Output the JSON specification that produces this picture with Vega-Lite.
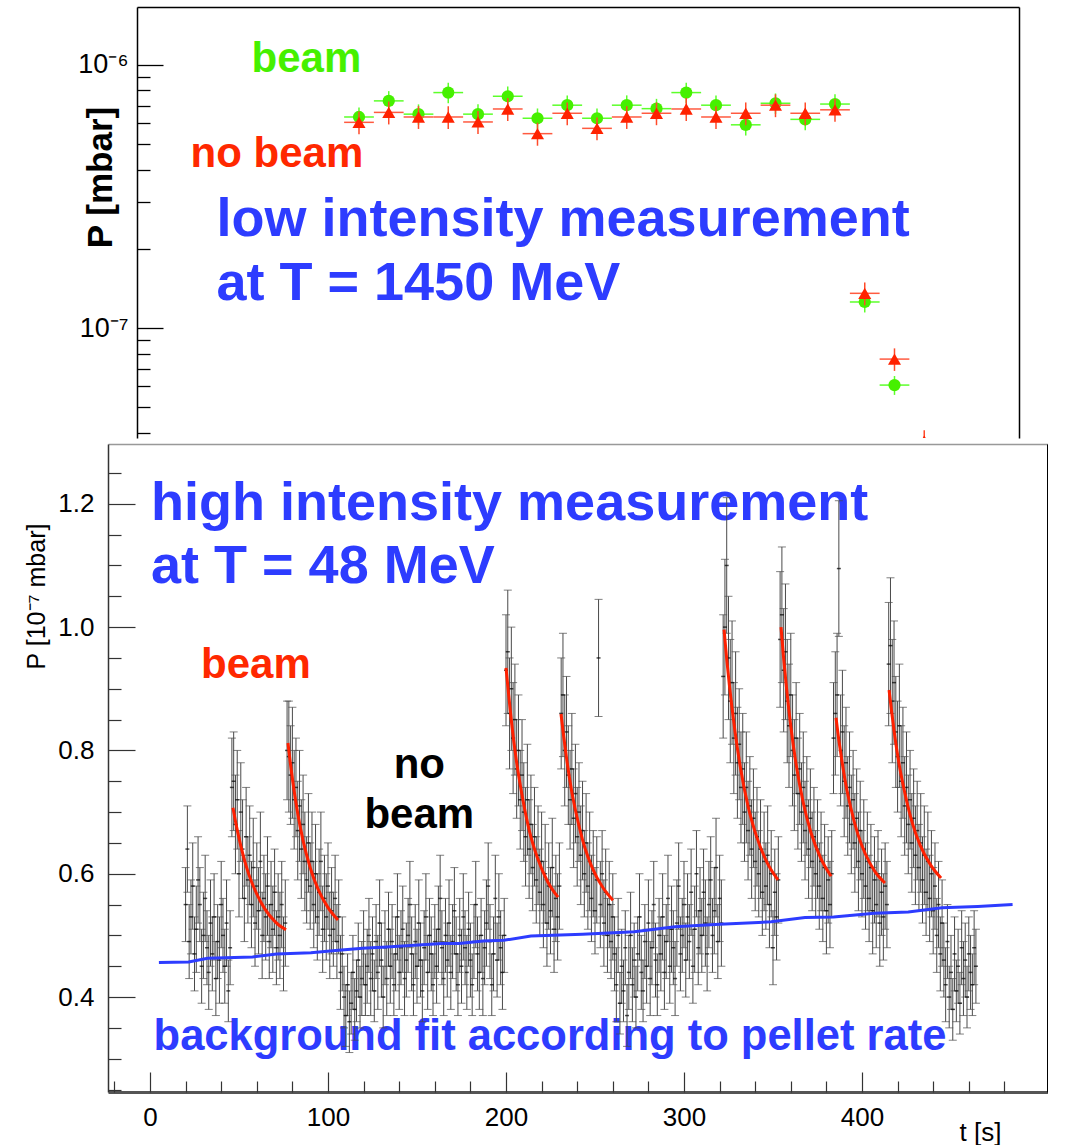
{
"$schema": "https://vega.github.io/schema/vega-lite/v6.json",
"background": "white",
"padding": {"left": 23, "top": 7, "right": 0, "bottom": 0},
"config": {"view": {"stroke": null}, "axis": {"grid": false, "labelFont": "Liberation Sans", "titleFont": "Liberation Sans", "labelColor": "black", "titleColor": "black"}, "text": {"font": "Liberation Sans"}},
"datasets": {
"top": [
{"i":1,"s":"beam","p":6.34e-7,"e":5.5e-8,"xe":0.5},{"i":2,"s":"beam","p":7.30e-7,"e":6.5e-8,"xe":0.5},{"i":3,"s":"beam","p":6.50e-7,"e":5.8e-8,"xe":0.5},{"i":4,"s":"beam","p":7.85e-7,"e":7.0e-8,"xe":0.5},{"i":5,"s":"beam","p":6.50e-7,"e":5.8e-8,"xe":0.5},{"i":6,"s":"beam","p":7.60e-7,"e":6.8e-8,"xe":0.5},{"i":7,"s":"beam","p":6.27e-7,"e":5.6e-8,"xe":0.5},{"i":8,"s":"beam","p":7.03e-7,"e":6.3e-8,"xe":0.5},{"i":9,"s":"beam","p":6.27e-7,"e":5.6e-8,"xe":0.5},{"i":10,"s":"beam","p":7.03e-7,"e":6.3e-8,"xe":0.5},{"i":11,"s":"beam","p":6.82e-7,"e":6.1e-8,"xe":0.5},{"i":12,"s":"beam","p":7.85e-7,"e":7.0e-8,"xe":0.5},{"i":13,"s":"beam","p":7.03e-7,"e":6.3e-8,"xe":0.5},{"i":14,"s":"beam","p":5.92e-7,"e":5.3e-8,"xe":0.5},{"i":15,"s":"beam","p":7.15e-7,"e":6.4e-8,"xe":0.5},{"i":16,"s":"beam","p":6.21e-7,"e":5.6e-8,"xe":0.5},{"i":17,"s":"beam","p":7.10e-7,"e":6.4e-8,"xe":0.5},{"i":18,"s":"beam","p":1.256e-7,"e":1.1e-8,"xe":0.5},{"i":19,"s":"beam","p":6.07e-8,"e":5.0e-9,"xe":0.5},{"i":20,"s":"beam","p":3.0e-8,"e":2.6e-9,"xe":0.5},
{"i":1,"s":"nobeam","p":6.05e-7,"e":6.0e-8,"xe":0.5},{"i":2,"s":"nobeam","p":6.60e-7,"e":6.6e-8,"xe":0.5},{"i":3,"s":"nobeam","p":6.34e-7,"e":6.3e-8,"xe":0.5},{"i":4,"s":"nobeam","p":6.34e-7,"e":6.3e-8,"xe":0.5},{"i":5,"s":"nobeam","p":6.07e-7,"e":6.1e-8,"xe":0.5},{"i":6,"s":"nobeam","p":6.80e-7,"e":6.8e-8,"xe":0.5},{"i":7,"s":"nobeam","p":5.48e-7,"e":5.5e-8,"xe":0.5},{"i":8,"s":"nobeam","p":6.55e-7,"e":6.5e-8,"xe":0.5},{"i":9,"s":"nobeam","p":5.74e-7,"e":5.7e-8,"xe":0.5},{"i":10,"s":"nobeam","p":6.34e-7,"e":6.3e-8,"xe":0.5},{"i":11,"s":"nobeam","p":6.55e-7,"e":6.5e-8,"xe":0.5},{"i":12,"s":"nobeam","p":6.80e-7,"e":6.8e-8,"xe":0.5},{"i":13,"s":"nobeam","p":6.34e-7,"e":6.3e-8,"xe":0.5},{"i":14,"s":"nobeam","p":6.55e-7,"e":6.5e-8,"xe":0.5},{"i":15,"s":"nobeam","p":7.03e-7,"e":7.0e-8,"xe":0.5},{"i":16,"s":"nobeam","p":6.55e-7,"e":6.5e-8,"xe":0.5},{"i":17,"s":"nobeam","p":6.75e-7,"e":6.7e-8,"xe":0.5},{"i":18,"s":"nobeam","p":1.355e-7,"e":1.35e-8,"xe":0.5},{"i":19,"s":"nobeam","p":7.62e-8,"e":7.5e-9,"xe":0.5},{"i":20,"s":"nobeam","p":3.72e-8,"e":3.7e-9,"xe":0.5}
],
"bot": [
{"t":20,"p":0.55,"e":0.06},{"t":21,"p":0.64,"e":0.07},{"t":22,"p":0.49,"e":0.06},{"t":23,"p":0.53,"e":0.06},{"t":24,"p":0.58,"e":0.07},{"t":25,"p":0.47,"e":0.06},{"t":26,"p":0.51,"e":0.07},{"t":27,"p":0.59,"e":0.07},{"t":28,"p":0.55,"e":0.06},{"t":29,"p":0.45,"e":0.06},
{"t":30,"p":0.50,"e":0.07},{"t":31,"p":0.56,"e":0.07},{"t":32,"p":0.48,"e":0.06},{"t":33,"p":0.44,"e":0.06},{"t":34,"p":0.52,"e":0.07},{"t":35,"p":0.47,"e":0.06},{"t":36,"p":0.53,"e":0.07},{"t":37,"p":0.43,"e":0.06},{"t":38,"p":0.49,"e":0.06},{"t":39,"p":0.46,"e":0.07},
{"t":40,"p":0.55,"e":0.07},{"t":41,"p":0.50,"e":0.06},{"t":42,"p":0.45,"e":0.06},{"t":43,"p":0.52,"e":0.07},{"t":44,"p":0.41,"e":0.05},{"t":45,"p":0.48,"e":0.06},
{"t":46,"p":0.74,"e":0.08},{"t":47,"p":0.75,"e":0.08},{"t":48,"p":0.68,"e":0.08},{"t":49,"p":0.72,"e":0.08},{"t":50,"p":0.60,"e":0.07},{"t":51,"p":0.70,"e":0.08},{"t":52,"p":0.64,"e":0.08},{"t":53,"p":0.56,"e":0.07},{"t":54,"p":0.66,"e":0.08},{"t":55,"p":0.59,"e":0.07},
{"t":56,"p":0.63,"e":0.08},{"t":57,"p":0.55,"e":0.07},{"t":58,"p":0.61,"e":0.08},{"t":59,"p":0.52,"e":0.07},{"t":60,"p":0.58,"e":0.07},{"t":61,"p":0.54,"e":0.07},{"t":62,"p":0.62,"e":0.08},{"t":63,"p":0.50,"e":0.07},{"t":64,"p":0.56,"e":0.07},{"t":65,"p":0.53,"e":0.07},
{"t":66,"p":0.58,"e":0.08},{"t":67,"p":0.49,"e":0.06},{"t":68,"p":0.55,"e":0.07},{"t":69,"p":0.51,"e":0.07},{"t":70,"p":0.57,"e":0.07},{"t":71,"p":0.48,"e":0.06},{"t":72,"p":0.53,"e":0.07},{"t":73,"p":0.50,"e":0.07},{"t":74,"p":0.55,"e":0.07},{"t":75,"p":0.47,"e":0.06},{"t":76,"p":0.52,"e":0.07},
{"t":77,"p":0.80,"e":0.08},{"t":78,"p":0.79,"e":0.09},{"t":79,"p":0.76,"e":0.08},{"t":80,"p":0.78,"e":0.09},{"t":81,"p":0.72,"e":0.08},{"t":82,"p":0.74,"e":0.08},{"t":83,"p":0.67,"e":0.08},{"t":84,"p":0.71,"e":0.09},{"t":85,"p":0.64,"e":0.08},{"t":86,"p":0.68,"e":0.08},
{"t":87,"p":0.62,"e":0.08},{"t":88,"p":0.59,"e":0.07},{"t":89,"p":0.65,"e":0.08},{"t":90,"p":0.58,"e":0.07},{"t":91,"p":0.62,"e":0.08},{"t":92,"p":0.55,"e":0.07},{"t":93,"p":0.60,"e":0.08},{"t":94,"p":0.53,"e":0.07},{"t":95,"p":0.57,"e":0.07},{"t":96,"p":0.62,"e":0.08},
{"t":97,"p":0.51,"e":0.07},{"t":98,"p":0.56,"e":0.07},{"t":99,"p":0.53,"e":0.07},{"t":100,"p":0.58,"e":0.07},{"t":101,"p":0.50,"e":0.07},{"t":102,"p":0.54,"e":0.07},{"t":103,"p":0.51,"e":0.06},{"t":104,"p":0.56,"e":0.07},{"t":105,"p":0.49,"e":0.06},
{"t":106,"p":0.53,"e":0.06},{"t":107,"p":0.44,"e":0.06},{"t":108,"p":0.47,"e":0.06},{"t":109,"p":0.40,"e":0.05},{"t":110,"p":0.37,"e":0.05},{"t":111,"p":0.42,"e":0.05},{"t":112,"p":0.36,"e":0.05},{"t":113,"p":0.39,"e":0.05},{"t":114,"p":0.44,"e":0.06},{"t":115,"p":0.38,"e":0.05},
{"t":116,"p":0.41,"e":0.05},{"t":117,"p":0.46,"e":0.06},{"t":118,"p":0.40,"e":0.05},{"t":119,"p":0.43,"e":0.06},{"t":120,"p":0.48,"e":0.06},{"t":121,"p":0.42,"e":0.05},{"t":122,"p":0.45,"e":0.06},{"t":123,"p":0.50,"e":0.06},{"t":124,"p":0.43,"e":0.06},{"t":125,"p":0.47,"e":0.06},
{"t":126,"p":0.41,"e":0.05},{"t":127,"p":0.49,"e":0.06},{"t":128,"p":0.44,"e":0.06},{"t":129,"p":0.52,"e":0.07},{"t":130,"p":0.46,"e":0.06},{"t":131,"p":0.40,"e":0.05},{"t":132,"p":0.48,"e":0.06},{"t":133,"p":0.43,"e":0.06},{"t":134,"p":0.51,"e":0.06},{"t":135,"p":0.45,"e":0.06},
{"t":136,"p":0.49,"e":0.06},{"t":137,"p":0.42,"e":0.05},{"t":138,"p":0.47,"e":0.06},{"t":139,"p":0.53,"e":0.07},{"t":140,"p":0.44,"e":0.06},{"t":141,"p":0.48,"e":0.06},{"t":142,"p":0.51,"e":0.07},{"t":143,"p":0.43,"e":0.06},{"t":144,"p":0.46,"e":0.06},{"t":145,"p":0.50,"e":0.06},
{"t":146,"p":0.55,"e":0.07},{"t":147,"p":0.47,"e":0.06},{"t":148,"p":0.42,"e":0.05},{"t":149,"p":0.49,"e":0.06},{"t":150,"p":0.45,"e":0.06},{"t":151,"p":0.52,"e":0.07},{"t":152,"p":0.46,"e":0.06},{"t":153,"p":0.41,"e":0.05},{"t":154,"p":0.48,"e":0.06},{"t":155,"p":0.53,"e":0.07},
{"t":156,"p":0.44,"e":0.06},{"t":157,"p":0.50,"e":0.06},{"t":158,"p":0.47,"e":0.06},{"t":159,"p":0.42,"e":0.05},{"t":160,"p":0.49,"e":0.06},{"t":161,"p":0.45,"e":0.06},{"t":162,"p":0.51,"e":0.07},{"t":163,"p":0.56,"e":0.07},{"t":164,"p":0.48,"e":0.06},{"t":165,"p":0.43,"e":0.06},
{"t":166,"p":0.50,"e":0.06},{"t":167,"p":0.46,"e":0.06},{"t":168,"p":0.52,"e":0.07},{"t":169,"p":0.44,"e":0.06},{"t":170,"p":0.49,"e":0.06},{"t":171,"p":0.54,"e":0.07},{"t":172,"p":0.47,"e":0.06},{"t":173,"p":0.42,"e":0.05},{"t":174,"p":0.50,"e":0.06},{"t":175,"p":0.45,"e":0.06},
{"t":176,"p":0.53,"e":0.07},{"t":177,"p":0.48,"e":0.06},{"t":178,"p":0.44,"e":0.06},{"t":179,"p":0.51,"e":0.06},{"t":180,"p":0.46,"e":0.06},{"t":181,"p":0.42,"e":0.05},{"t":182,"p":0.49,"e":0.06},{"t":183,"p":0.55,"e":0.07},{"t":184,"p":0.47,"e":0.06},{"t":185,"p":0.44,"e":0.06},
{"t":186,"p":0.50,"e":0.06},{"t":187,"p":0.43,"e":0.06},{"t":188,"p":0.48,"e":0.06},{"t":189,"p":0.52,"e":0.07},{"t":190,"p":0.58,"e":0.07},{"t":191,"p":0.49,"e":0.06},{"t":192,"p":0.42,"e":0.05},{"t":193,"p":0.47,"e":0.06},{"t":194,"p":0.56,"e":0.07},{"t":195,"p":0.46,"e":0.06},
{"t":196,"p":0.53,"e":0.07},{"t":197,"p":0.48,"e":0.06},{"t":198,"p":0.44,"e":0.06},{"t":199,"p":0.50,"e":0.06},
{"t":200,"p":0.93,"e":0.09},{"t":201,"p":0.96,"e":0.10},{"t":202,"p":0.86,"e":0.09},{"t":203,"p":0.90,"e":0.10},{"t":204,"p":0.82,"e":0.09},{"t":205,"p":0.85,"e":0.09},{"t":206,"p":0.77,"e":0.08},{"t":207,"p":0.80,"e":0.09},{"t":208,"p":0.72,"e":0.08},{"t":209,"p":0.76,"e":0.09},
{"t":210,"p":0.70,"e":0.08},{"t":211,"p":0.66,"e":0.08},{"t":212,"p":0.72,"e":0.09},{"t":213,"p":0.64,"e":0.08},{"t":214,"p":0.68,"e":0.08},{"t":215,"p":0.61,"e":0.07},{"t":216,"p":0.66,"e":0.08},{"t":217,"p":0.59,"e":0.07},{"t":218,"p":0.63,"e":0.08},{"t":219,"p":0.57,"e":0.07},
{"t":220,"p":0.62,"e":0.08},{"t":221,"p":0.55,"e":0.07},{"t":222,"p":0.60,"e":0.08},{"t":223,"p":0.52,"e":0.07},{"t":224,"p":0.58,"e":0.07},{"t":225,"p":0.54,"e":0.07},{"t":226,"p":0.61,"e":0.08},{"t":227,"p":0.51,"e":0.07},{"t":228,"p":0.56,"e":0.07},{"t":229,"p":0.53,"e":0.07},{"t":230,"p":0.58,"e":0.07},
{"t":231,"p":0.86,"e":0.09},{"t":232,"p":0.89,"e":0.10},{"t":233,"p":0.80,"e":0.09},{"t":234,"p":0.83,"e":0.09},{"t":235,"p":0.76,"e":0.08},{"t":236,"p":0.72,"e":0.08},{"t":237,"p":0.77,"e":0.09},{"t":238,"p":0.69,"e":0.08},{"t":239,"p":0.73,"e":0.08},{"t":240,"p":0.66,"e":0.08},
{"t":241,"p":0.70,"e":0.08},{"t":242,"p":0.63,"e":0.08},{"t":243,"p":0.67,"e":0.08},{"t":244,"p":0.60,"e":0.07},{"t":245,"p":0.65,"e":0.08},{"t":246,"p":0.58,"e":0.07},{"t":247,"p":0.62,"e":0.08},{"t":248,"p":0.56,"e":0.07},{"t":249,"p":0.60,"e":0.07},{"t":250,"p":0.54,"e":0.07},
{"t":251,"p":0.59,"e":0.07},{"t":252,"p":0.95,"e":0.095},{"t":253,"p":0.55,"e":0.07},{"t":254,"p":0.60,"e":0.07},{"t":255,"p":0.52,"e":0.07},{"t":256,"p":0.57,"e":0.07},{"t":257,"p":0.50,"e":0.06},{"t":258,"p":0.55,"e":0.07},{"t":259,"p":0.49,"e":0.06},{"t":260,"p":0.53,"e":0.07},
{"t":261,"p":0.47,"e":0.06},{"t":262,"p":0.42,"e":0.06},{"t":263,"p":0.50,"e":0.06},{"t":264,"p":0.39,"e":0.05},{"t":265,"p":0.45,"e":0.06},{"t":266,"p":0.41,"e":0.05},{"t":267,"p":0.48,"e":0.06},{"t":268,"p":0.37,"e":0.05},{"t":269,"p":0.44,"e":0.06},{"t":270,"p":0.50,"e":0.07},
{"t":271,"p":0.42,"e":0.06},{"t":272,"p":0.46,"e":0.06},{"t":273,"p":0.40,"e":0.05},{"t":274,"p":0.47,"e":0.06},{"t":275,"p":0.53,"e":0.07},{"t":276,"p":0.44,"e":0.06},{"t":277,"p":0.41,"e":0.05},{"t":278,"p":0.49,"e":0.06},{"t":279,"p":0.45,"e":0.06},{"t":280,"p":0.52,"e":0.07},
{"t":281,"p":0.43,"e":0.06},{"t":282,"p":0.48,"e":0.06},{"t":283,"p":0.55,"e":0.07},{"t":284,"p":0.46,"e":0.06},{"t":285,"p":0.42,"e":0.05},{"t":286,"p":0.50,"e":0.06},{"t":287,"p":0.47,"e":0.06},{"t":288,"p":0.53,"e":0.07},{"t":289,"p":0.44,"e":0.06},{"t":290,"p":0.49,"e":0.06},
{"t":291,"p":0.56,"e":0.07},{"t":292,"p":0.45,"e":0.06},{"t":293,"p":0.51,"e":0.07},{"t":294,"p":0.48,"e":0.06},{"t":295,"p":0.43,"e":0.06},{"t":296,"p":0.52,"e":0.07},{"t":297,"p":0.58,"e":0.07},{"t":298,"p":0.47,"e":0.06},{"t":299,"p":0.50,"e":0.06},{"t":300,"p":0.55,"e":0.07},
{"t":301,"p":0.46,"e":0.06},{"t":302,"p":0.53,"e":0.07},{"t":303,"p":0.49,"e":0.06},{"t":304,"p":0.57,"e":0.07},{"t":305,"p":0.45,"e":0.06},{"t":306,"p":0.51,"e":0.07},{"t":307,"p":0.60,"e":0.07},{"t":308,"p":0.48,"e":0.06},{"t":309,"p":0.54,"e":0.07},{"t":310,"p":0.50,"e":0.06},
{"t":311,"p":0.57,"e":0.07},{"t":312,"p":0.52,"e":0.07},{"t":313,"p":0.47,"e":0.06},{"t":314,"p":0.55,"e":0.07},{"t":315,"p":0.59,"e":0.07},{"t":316,"p":0.50,"e":0.06},{"t":317,"p":0.54,"e":0.07},{"t":318,"p":0.61,"e":0.08},{"t":319,"p":0.49,"e":0.06},{"t":320,"p":0.56,"e":0.07},{"t":321,"p":0.52,"e":0.07},
{"t":322,"p":0.92,"e":0.10},{"t":323,"p":1.00,"e":0.11},{"t":324,"p":1.10,"e":0.11},{"t":325,"p":0.95,"e":0.10},{"t":326,"p":0.88,"e":0.10},{"t":327,"p":0.91,"e":0.10},{"t":328,"p":0.82,"e":0.09},{"t":329,"p":0.86,"e":0.10},{"t":330,"p":0.78,"e":0.09},{"t":331,"p":0.81,"e":0.09},
{"t":332,"p":0.74,"e":0.09},{"t":333,"p":0.77,"e":0.09},{"t":334,"p":0.70,"e":0.08},{"t":335,"p":0.74,"e":0.09},{"t":336,"p":0.67,"e":0.08},{"t":337,"p":0.71,"e":0.08},{"t":338,"p":0.64,"e":0.08},{"t":339,"p":0.69,"e":0.08},{"t":340,"p":0.62,"e":0.08},{"t":341,"p":0.66,"e":0.08},
{"t":342,"p":0.60,"e":0.07},{"t":343,"p":0.64,"e":0.08},{"t":344,"p":0.57,"e":0.07},{"t":345,"p":0.62,"e":0.08},{"t":346,"p":0.58,"e":0.07},{"t":347,"p":0.63,"e":0.08},{"t":348,"p":0.55,"e":0.07},{"t":349,"p":0.60,"e":0.07},{"t":350,"p":0.48,"e":0.06},{"t":351,"p":0.57,"e":0.07},{"t":352,"p":0.53,"e":0.07},{"t":353,"p":0.59,"e":0.07},
{"t":354,"p":0.98,"e":0.11},{"t":355,"p":1.02,"e":0.11},{"t":356,"p":0.93,"e":0.10},{"t":357,"p":0.96,"e":0.11},{"t":358,"p":0.88,"e":0.10},{"t":359,"p":0.84,"e":0.10},{"t":360,"p":0.89,"e":0.10},{"t":361,"p":0.80,"e":0.09},{"t":362,"p":0.76,"e":0.09},{"t":363,"p":0.82,"e":0.09},
{"t":364,"p":0.73,"e":0.09},{"t":365,"p":0.77,"e":0.09},{"t":366,"p":0.70,"e":0.08},{"t":367,"p":0.74,"e":0.09},{"t":368,"p":0.67,"e":0.08},{"t":369,"p":0.71,"e":0.08},{"t":370,"p":0.64,"e":0.08},{"t":371,"p":0.69,"e":0.08},{"t":372,"p":0.62,"e":0.08},{"t":373,"p":0.66,"e":0.08},
{"t":374,"p":0.60,"e":0.07},{"t":375,"p":0.64,"e":0.08},{"t":376,"p":0.58,"e":0.07},{"t":377,"p":0.62,"e":0.08},{"t":378,"p":0.56,"e":0.07},{"t":379,"p":0.61,"e":0.07},{"t":380,"p":0.54,"e":0.07},{"t":381,"p":0.59,"e":0.07},{"t":382,"p":0.55,"e":0.07},{"t":383,"p":0.60,"e":0.07},
{"t":384,"p":0.82,"e":0.09},{"t":385,"p":0.86,"e":0.10},{"t":386,"p":0.89,"e":0.10},{"t":387,"p":1.095,"e":0.11},{"t":388,"p":0.80,"e":0.09},{"t":389,"p":0.83,"e":0.10},{"t":390,"p":0.75,"e":0.09},{"t":391,"p":0.78,"e":0.09},{"t":392,"p":0.71,"e":0.08},{"t":393,"p":0.74,"e":0.09},
{"t":394,"p":0.68,"e":0.08},{"t":395,"p":0.72,"e":0.08},{"t":396,"p":0.65,"e":0.08},{"t":397,"p":0.69,"e":0.08},{"t":398,"p":0.62,"e":0.08},{"t":399,"p":0.67,"e":0.08},{"t":400,"p":0.60,"e":0.07},{"t":401,"p":0.64,"e":0.08},{"t":402,"p":0.58,"e":0.07},{"t":403,"p":0.62,"e":0.08},
{"t":404,"p":0.56,"e":0.07},{"t":405,"p":0.61,"e":0.07},{"t":406,"p":0.54,"e":0.07},{"t":407,"p":0.59,"e":0.07},{"t":408,"p":0.55,"e":0.07},{"t":409,"p":0.60,"e":0.07},{"t":410,"p":0.52,"e":0.07},{"t":411,"p":0.57,"e":0.07},{"t":412,"p":0.53,"e":0.07},{"t":413,"p":0.58,"e":0.07},{"t":414,"p":0.55,"e":0.07},
{"t":415,"p":0.94,"e":0.10},{"t":416,"p":0.97,"e":0.11},{"t":417,"p":0.88,"e":0.10},{"t":418,"p":0.91,"e":0.10},{"t":419,"p":0.83,"e":0.09},{"t":420,"p":0.79,"e":0.09},{"t":421,"p":0.84,"e":0.10},{"t":422,"p":0.75,"e":0.09},{"t":423,"p":0.78,"e":0.09},{"t":424,"p":0.71,"e":0.08},
{"t":425,"p":0.74,"e":0.09},{"t":426,"p":0.68,"e":0.08},{"t":427,"p":0.72,"e":0.08},{"t":428,"p":0.65,"e":0.08},{"t":429,"p":0.69,"e":0.08},{"t":430,"p":0.63,"e":0.08},{"t":431,"p":0.67,"e":0.08},{"t":432,"p":0.61,"e":0.07},{"t":433,"p":0.65,"e":0.08},{"t":434,"p":0.59,"e":0.07},
{"t":435,"p":0.63,"e":0.08},{"t":436,"p":0.57,"e":0.07},{"t":437,"p":0.62,"e":0.08},{"t":438,"p":0.56,"e":0.07},{"t":439,"p":0.60,"e":0.07},{"t":440,"p":0.54,"e":0.07},{"t":441,"p":0.58,"e":0.07},{"t":442,"p":0.50,"e":0.06},{"t":443,"p":0.55,"e":0.07},{"t":444,"p":0.47,"e":0.06},{"t":445,"p":0.52,"e":0.07},
{"t":446,"p":0.46,"e":0.06},{"t":447,"p":0.42,"e":0.06},{"t":448,"p":0.49,"e":0.06},{"t":449,"p":0.40,"e":0.05},{"t":450,"p":0.44,"e":0.06},{"t":451,"p":0.38,"e":0.05},{"t":452,"p":0.47,"e":0.06},{"t":453,"p":0.41,"e":0.05},{"t":454,"p":0.45,"e":0.06},{"t":455,"p":0.39,"e":0.05},
{"t":456,"p":0.48,"e":0.06},{"t":457,"p":0.43,"e":0.06},{"t":458,"p":0.46,"e":0.06},{"t":459,"p":0.40,"e":0.05},{"t":460,"p":0.47,"e":0.06},{"t":461,"p":0.44,"e":0.06},{"t":462,"p":0.42,"e":0.05},{"t":463,"p":0.48,"e":0.06},{"t":464,"p":0.45,"e":0.06}
],
"fits": [
{"c":1,"t":46.6,"p":0.707},{"c":1,"t":48.1,"p":0.684},{"c":1,"t":49.6,"p":0.663},{"c":1,"t":52.6,"p":0.627},{"c":1,"t":55.5,"p":0.599},{"c":1,"t":60.0,"p":0.567},{"c":1,"t":64.5,"p":0.543},{"c":1,"t":70.4,"p":0.522},{"c":1,"t":76.4,"p":0.509},
{"c":2,"t":77.5,"p":0.812},{"c":2,"t":78.9,"p":0.778},{"c":2,"t":80.3,"p":0.748},{"c":2,"t":83.1,"p":0.696},{"c":2,"t":85.9,"p":0.655},{"c":2,"t":90.1,"p":0.609},{"c":2,"t":94.4,"p":0.575},{"c":2,"t":100.0,"p":0.545},{"c":2,"t":105.6,"p":0.525},
{"c":3,"t":200.0,"p":0.934},{"c":3,"t":201.5,"p":0.890},{"c":3,"t":202.9,"p":0.851},{"c":3,"t":205.8,"p":0.784},{"c":3,"t":208.8,"p":0.731},{"c":3,"t":213.1,"p":0.670},{"c":3,"t":217.5,"p":0.627},{"c":3,"t":223.4,"p":0.587},{"c":3,"t":229.2,"p":0.562},
{"c":4,"t":230.9,"p":0.859},{"c":4,"t":232.4,"p":0.823},{"c":4,"t":233.8,"p":0.792},{"c":4,"t":236.7,"p":0.737},{"c":4,"t":239.7,"p":0.694},{"c":4,"t":244.0,"p":0.645},{"c":4,"t":248.4,"p":0.610},{"c":4,"t":254.3,"p":0.578},{"c":4,"t":260.1,"p":0.557},
{"c":5,"t":322.5,"p":0.996},{"c":5,"t":324.0,"p":0.948},{"c":5,"t":325.5,"p":0.906},{"c":5,"t":328.6,"p":0.832},{"c":5,"t":331.6,"p":0.774},{"c":5,"t":336.1,"p":0.708},{"c":5,"t":340.7,"p":0.661},{"c":5,"t":346.7,"p":0.618},{"c":5,"t":352.8,"p":0.590},
{"c":6,"t":354.5,"p":1.000},{"c":6,"t":355.9,"p":0.952},{"c":6,"t":357.3,"p":0.910},{"c":6,"t":360.1,"p":0.837},{"c":6,"t":362.9,"p":0.779},{"c":6,"t":367.1,"p":0.714},{"c":6,"t":371.4,"p":0.666},{"c":6,"t":377.0,"p":0.624},{"c":6,"t":382.6,"p":0.596},
{"c":7,"t":385.4,"p":0.853},{"c":7,"t":386.8,"p":0.821},{"c":7,"t":388.2,"p":0.793},{"c":7,"t":390.9,"p":0.745},{"c":7,"t":393.7,"p":0.707},{"c":7,"t":397.8,"p":0.663},{"c":7,"t":401.9,"p":0.632},{"c":7,"t":407.4,"p":0.603},{"c":7,"t":412.9,"p":0.585},
{"c":8,"t":415.2,"p":0.898},{"c":8,"t":416.7,"p":0.862},{"c":8,"t":418.1,"p":0.830},{"c":8,"t":421.0,"p":0.775},{"c":8,"t":424.0,"p":0.732},{"c":8,"t":428.3,"p":0.682},{"c":8,"t":432.7,"p":0.646},{"c":8,"t":438.6,"p":0.614},{"c":8,"t":444.4,"p":0.593}
],
"bg": [
{"t":5,"p":0.456},{"t":21.7,"p":0.457},{"t":32.4,"p":0.463},{"t":57.6,"p":0.465},{"t":71.1,"p":0.470},{"t":90.4,"p":0.472},{"t":105.9,"p":0.476},{"t":119.5,"p":0.479},{"t":133,"p":0.481},{"t":148.5,"p":0.484},{"t":164,"p":0.487},{"t":173.6,"p":0.487},{"t":187.1,"p":0.491},{"t":198.8,"p":0.492},{"t":214,"p":0.499},{"t":243,"p":0.502},{"t":272,"p":0.506},{"t":295,"p":0.514},{"t":320,"p":0.518},{"t":349,"p":0.522},{"t":368,"p":0.529},{"t":384,"p":0.530},{"t":407,"p":0.536},{"t":426,"p":0.538},{"t":445,"p":0.545},{"t":465,"p":0.547},{"t":484.6,"p":0.550}
]
},
"spacing": 6,
"bounds": "flush",
"center": true,
"vconcat": [
{
"width": 882, "height": 431,
"resolve": {"axis": {"x": "independent", "y": "independent"}},
"layer": [
{"data": {"name": "top"}, "transform": [{"filter": "datum.s == 'beam'"}],
 "mark": {"type": "errorbar", "color": "#5cff2a", "thickness": 1.5, "clip": true},
 "encoding": {
  "x": {"field": "i", "type": "quantitative", "scale": {"domain": [-6.462, 23.185], "nice": false, "zero": false},
        "axis": {"orient": "top", "domain": true, "domainColor": "black", "domainWidth": 1.5, "ticks": false, "labels": false, "title": null}},
  "y": {"field": "p", "type": "quantitative", "scale": {"type": "log", "domain": [3.82e-8, 1.66e-6], "nice": false},
        "axis": {"orient": "left", "values": [1e-7, 1e-6], "labelExpr": "datum.value < 5e-7 ? '10⁻⁷' : '10⁻⁶'", "ticks": false, "domain": true, "domainColor": "black", "domainWidth": 1.5, "labelFontSize": 27, "labelPadding": 9, "title": "P [mbar]", "titleFontSize": 35, "titleFontWeight": "bold", "titleX": -19, "titleY": 170, "titleBaseline": "bottom", "titleAlign": "center", "titleAngle": -90}},
  "yError": {"field": "e"}
 }},
{"data": {"name": "top"}, "transform": [{"filter": "datum.s == 'beam'"}],
 "mark": {"type": "errorbar", "color": "#5cff2a", "thickness": 1.5, "clip": true},
 "encoding": {
  "x": {"field": "i", "type": "quantitative", "scale": {"domain": [-6.462, 23.185], "nice": false, "zero": false}, "axis": null},
  "xError": {"field": "xe"},
  "y": {"field": "p", "type": "quantitative", "scale": {"type": "log", "domain": [3.82e-8, 1.66e-6], "nice": false},
        "axis": {"orient": "left", "values": [1e-7, 1e-6], "ticks": true, "tickSize": -26, "tickWidth": 1.3, "tickColor": "black", "labels": false, "domain": false, "title": null}}
 }},
{"data": {"name": "top"}, "transform": [{"filter": "datum.s == 'beam'"}],
 "mark": {"type": "point", "shape": "circle", "filled": true, "opacity": 1, "size": 150, "color": "#46f000", "clip": true},
 "encoding": {
  "x": {"field": "i", "type": "quantitative", "scale": {"domain": [-6.462, 23.185], "nice": false, "zero": false}, "axis": null},
  "y": {"field": "p", "type": "quantitative", "scale": {"type": "log", "domain": [3.82e-8, 1.66e-6], "nice": false},
        "axis": {"orient": "left", "values": [4e-8, 5e-8, 6e-8, 7e-8, 8e-8, 9e-8, 2e-7, 3e-7, 4e-7, 5e-7, 6e-7, 7e-7, 8e-7, 9e-7], "ticks": true, "tickSize": -13, "tickWidth": 1.3, "tickColor": "black", "labels": false, "domain": false, "title": null}}
 }},
{"data": {"name": "top"}, "transform": [{"filter": "datum.s == 'nobeam'"}],
 "mark": {"type": "errorbar", "color": "#ff4a2a", "thickness": 1.5, "clip": true},
 "encoding": {
  "x": {"field": "i", "type": "quantitative", "scale": {"domain": [-6.462, 23.185], "nice": false, "zero": false}, "axis": null},
  "y": {"field": "p", "type": "quantitative", "scale": {"type": "log", "domain": [3.82e-8, 1.66e-6], "nice": false},
        "axis": {"orient": "right", "domain": true, "domainColor": "black", "domainWidth": 1.5, "ticks": false, "labels": false, "title": null}},
  "yError": {"field": "e"}
 }},
{"data": {"name": "top"}, "transform": [{"filter": "datum.s == 'nobeam'"}],
 "mark": {"type": "errorbar", "color": "#ff5a40", "thickness": 1.5, "clip": true},
 "encoding": {
  "x": {"field": "i", "type": "quantitative", "scale": {"domain": [-6.462, 23.185], "nice": false, "zero": false}, "axis": null},
  "xError": {"field": "xe"},
  "y": {"field": "p", "type": "quantitative", "scale": {"type": "log", "domain": [3.82e-8, 1.66e-6], "nice": false}, "axis": null}
 }},
{"data": {"name": "top"}, "transform": [{"filter": "datum.s == 'nobeam'"}],
 "mark": {"type": "point", "shape": "triangle-up", "filled": true, "opacity": 1, "size": 170, "color": "#ff2200", "clip": true},
 "encoding": {
  "x": {"field": "i", "type": "quantitative", "scale": {"domain": [-6.462, 23.185], "nice": false, "zero": false}, "axis": null},
  "y": {"field": "p", "type": "quantitative", "scale": {"type": "log", "domain": [3.82e-8, 1.66e-6], "nice": false}, "axis": null}
 }},
{"data": {"values": [{"txt": "beam", "i": -2.61, "p": 9.4e-7}]},
 "mark": {"type": "text", "align": "left", "baseline": "alphabetic", "fontSize": 42, "fontWeight": "bold", "color": "#46f000"},
 "encoding": {
  "x": {"field": "i", "type": "quantitative", "scale": {"domain": [-6.462, 23.185], "nice": false, "zero": false}, "axis": null},
  "y": {"field": "p", "type": "quantitative", "scale": {"type": "log", "domain": [3.82e-8, 1.66e-6], "nice": false}, "axis": null},
  "text": {"field": "txt"}
 }},
{"data": {"values": [{"txt": "no beam", "i": -4.66, "p": 4.095e-7}]},
 "mark": {"type": "text", "align": "left", "baseline": "alphabetic", "fontSize": 42, "fontWeight": "bold", "color": "#ff2800"},
 "encoding": {
  "x": {"field": "i", "type": "quantitative", "scale": {"domain": [-6.462, 23.185], "nice": false, "zero": false}, "axis": null},
  "y": {"field": "p", "type": "quantitative", "scale": {"type": "log", "domain": [3.82e-8, 1.66e-6], "nice": false}, "axis": null},
  "text": {"field": "txt"}
 }},
{"data": {"values": [{"txt": "low intensity measurement", "i": -3.79, "p": 2.238e-7}, {"txt": "at T = 1450 MeV", "i": -3.79, "p": 1.278e-7}]},
 "mark": {"type": "text", "align": "left", "baseline": "alphabetic", "fontSize": 54, "fontWeight": "bold", "color": "#2d3cff"},
 "encoding": {
  "x": {"field": "i", "type": "quantitative", "scale": {"domain": [-6.462, 23.185], "nice": false, "zero": false}, "axis": null},
  "y": {"field": "p", "type": "quantitative", "scale": {"type": "log", "domain": [3.82e-8, 1.66e-6], "nice": false}, "axis": null},
  "text": {"field": "txt"}
 }}
]
},
{
"width": 940, "height": 648,
"resolve": {"axis": {"x": "independent", "y": "independent"}},
"layer": [
{"data": {"values": [{"txt": "high intensity measurement", "t": 0.6, "p": 1.174}, {"txt": "at T = 48 MeV", "t": 0.6, "p": 1.072}]},
 "mark": {"type": "text", "align": "left", "baseline": "alphabetic", "fontSize": 54, "fontWeight": "bold", "color": "#2d3cff"},
 "encoding": {
  "x": {"field": "t", "type": "quantitative", "scale": {"domain": [-23.6, 504.5], "nice": false, "zero": false}, "axis": null},
  "y": {"field": "p", "type": "quantitative", "scale": {"domain": [0.246, 1.297], "nice": false, "zero": false}, "axis": null},
  "text": {"field": "txt"}
 }},
{"data": {"values": [{"txt": "background fit according to pellet rate", "t": 2.0, "p": 0.314}]},
 "mark": {"type": "text", "align": "left", "baseline": "alphabetic", "fontSize": 43.5, "fontWeight": "bold", "color": "#2d3cff"},
 "encoding": {
  "x": {"field": "t", "type": "quantitative", "scale": {"domain": [-23.6, 504.5], "nice": false, "zero": false}, "axis": null},
  "y": {"field": "p", "type": "quantitative", "scale": {"domain": [0.246, 1.297], "nice": false, "zero": false}, "axis": null},
  "text": {"field": "txt"}
 }},
{"data": {"values": [{"txt": "beam", "t": 28.7, "p": 0.917}]},
 "mark": {"type": "text", "align": "left", "baseline": "alphabetic", "fontSize": 42, "fontWeight": "bold", "color": "#ff2800"},
 "encoding": {
  "x": {"field": "t", "type": "quantitative", "scale": {"domain": [-23.6, 504.5], "nice": false, "zero": false}, "axis": null},
  "y": {"field": "p", "type": "quantitative", "scale": {"domain": [0.246, 1.297], "nice": false, "zero": false}, "axis": null},
  "text": {"field": "txt"}
 }},
{"data": {"values": [{"txt": "no", "t": 151.3, "p": 0.755}, {"txt": "beam", "t": 151.3, "p": 0.674}]},
 "mark": {"type": "text", "align": "center", "baseline": "alphabetic", "fontSize": 42, "fontWeight": "bold", "color": "black"},
 "encoding": {
  "x": {"field": "t", "type": "quantitative", "scale": {"domain": [-23.6, 504.5], "nice": false, "zero": false}, "axis": null},
  "y": {"field": "p", "type": "quantitative", "scale": {"domain": [0.246, 1.297], "nice": false, "zero": false}, "axis": null},
  "text": {"field": "txt"}
 }},
{"data": {"name": "bot"},
 "mark": {"type": "errorbar", "ticks": {"size": 8}, "color": "#4a4a4a", "thickness": 1},
 "encoding": {
  "x": {"field": "t", "type": "quantitative", "scale": {"domain": [-23.6, 504.5], "nice": false, "zero": false},
        "axis": {"orient": "bottom", "values": [0, 100, 200, 300, 400], "ticks": false, "domain": true, "domainColor": "#555", "domainWidth": 3, "labelFontSize": 26, "labelPadding": 12, "title": "t [s]", "titleFontSize": 26, "titleFontWeight": "normal", "titleX": 893, "titleY": 48, "titleAlign": "right", "titleBaseline": "alphabetic"}},
  "y": {"field": "p", "type": "quantitative", "scale": {"domain": [0.246, 1.297], "nice": false, "zero": false},
        "axis": {"orient": "left", "values": [0.4, 0.6, 0.8, 1.0, 1.2], "format": ".1f", "ticks": false, "domain": true, "domainColor": "#333", "domainWidth": 1.5, "labelFontSize": 26, "labelPadding": 14, "title": "P [10⁻⁷ mbar]", "titleFontSize": 25, "titleFontWeight": "normal", "titleX": -59, "titleY": 152, "titleBaseline": "bottom", "titleAlign": "center", "titleAngle": -90}},
  "yError": {"field": "e"}
 }},
{"data": {"name": "bot"},
 "mark": {"type": "tick", "orient": "horizontal", "size": 4, "thickness": 1.5, "color": "black"},
 "encoding": {
  "x": {"field": "t", "type": "quantitative", "scale": {"domain": [-23.6, 504.5], "nice": false, "zero": false},
        "axis": {"orient": "bottom", "values": [0, 100, 200, 300, 400], "ticks": true, "tickSize": -20, "tickWidth": 1.2, "tickColor": "#333", "labels": false, "domain": false, "title": null}},
  "y": {"field": "p", "type": "quantitative", "scale": {"domain": [0.246, 1.297], "nice": false, "zero": false},
        "axis": {"orient": "left", "values": [0.4, 0.6, 0.8, 1.0, 1.2], "ticks": true, "tickSize": -27, "tickWidth": 1.2, "tickColor": "#333", "labels": false, "domain": false, "title": null}}
 }},
{"data": {"name": "fits"},
 "mark": {"type": "line", "color": "#ff2000", "strokeWidth": 3, "interpolate": "monotone"},
 "encoding": {
  "x": {"field": "t", "type": "quantitative", "scale": {"domain": [-23.6, 504.5], "nice": false, "zero": false},
        "axis": {"orient": "bottom", "values": [-20, 20, 40, 60, 80, 120, 140, 160, 180, 220, 240, 260, 280, 320, 340, 360, 380, 420, 440, 460, 480], "ticks": true, "tickSize": -11, "tickWidth": 1.2, "tickColor": "#333", "labels": false, "domain": false, "title": null}},
  "y": {"field": "p", "type": "quantitative", "scale": {"domain": [0.246, 1.297], "nice": false, "zero": false},
        "axis": {"orient": "left", "values": [0.25, 0.3, 0.35, 0.45, 0.5, 0.55, 0.65, 0.7, 0.75, 0.85, 0.9, 0.95, 1.05, 1.1, 1.15, 1.25], "ticks": true, "tickSize": -13, "tickWidth": 1.2, "tickColor": "#333", "labels": false, "domain": false, "title": null}},
  "detail": {"field": "c"}
 }},
{"data": {"name": "bg"},
 "mark": {"type": "line", "color": "#2d3cff", "strokeWidth": 3},
 "encoding": {
  "x": {"field": "t", "type": "quantitative", "scale": {"domain": [-23.6, 504.5], "nice": false, "zero": false},
        "axis": {"orient": "top", "ticks": false, "labels": false, "domain": true, "domainColor": "#999", "domainWidth": 1.5, "title": null}},
  "y": {"field": "p", "type": "quantitative", "scale": {"domain": [0.246, 1.297], "nice": false, "zero": false},
        "axis": {"orient": "right", "ticks": false, "labels": false, "domain": true, "domainColor": "black", "domainWidth": 3, "title": null}}
 }}
]
}
]
}
